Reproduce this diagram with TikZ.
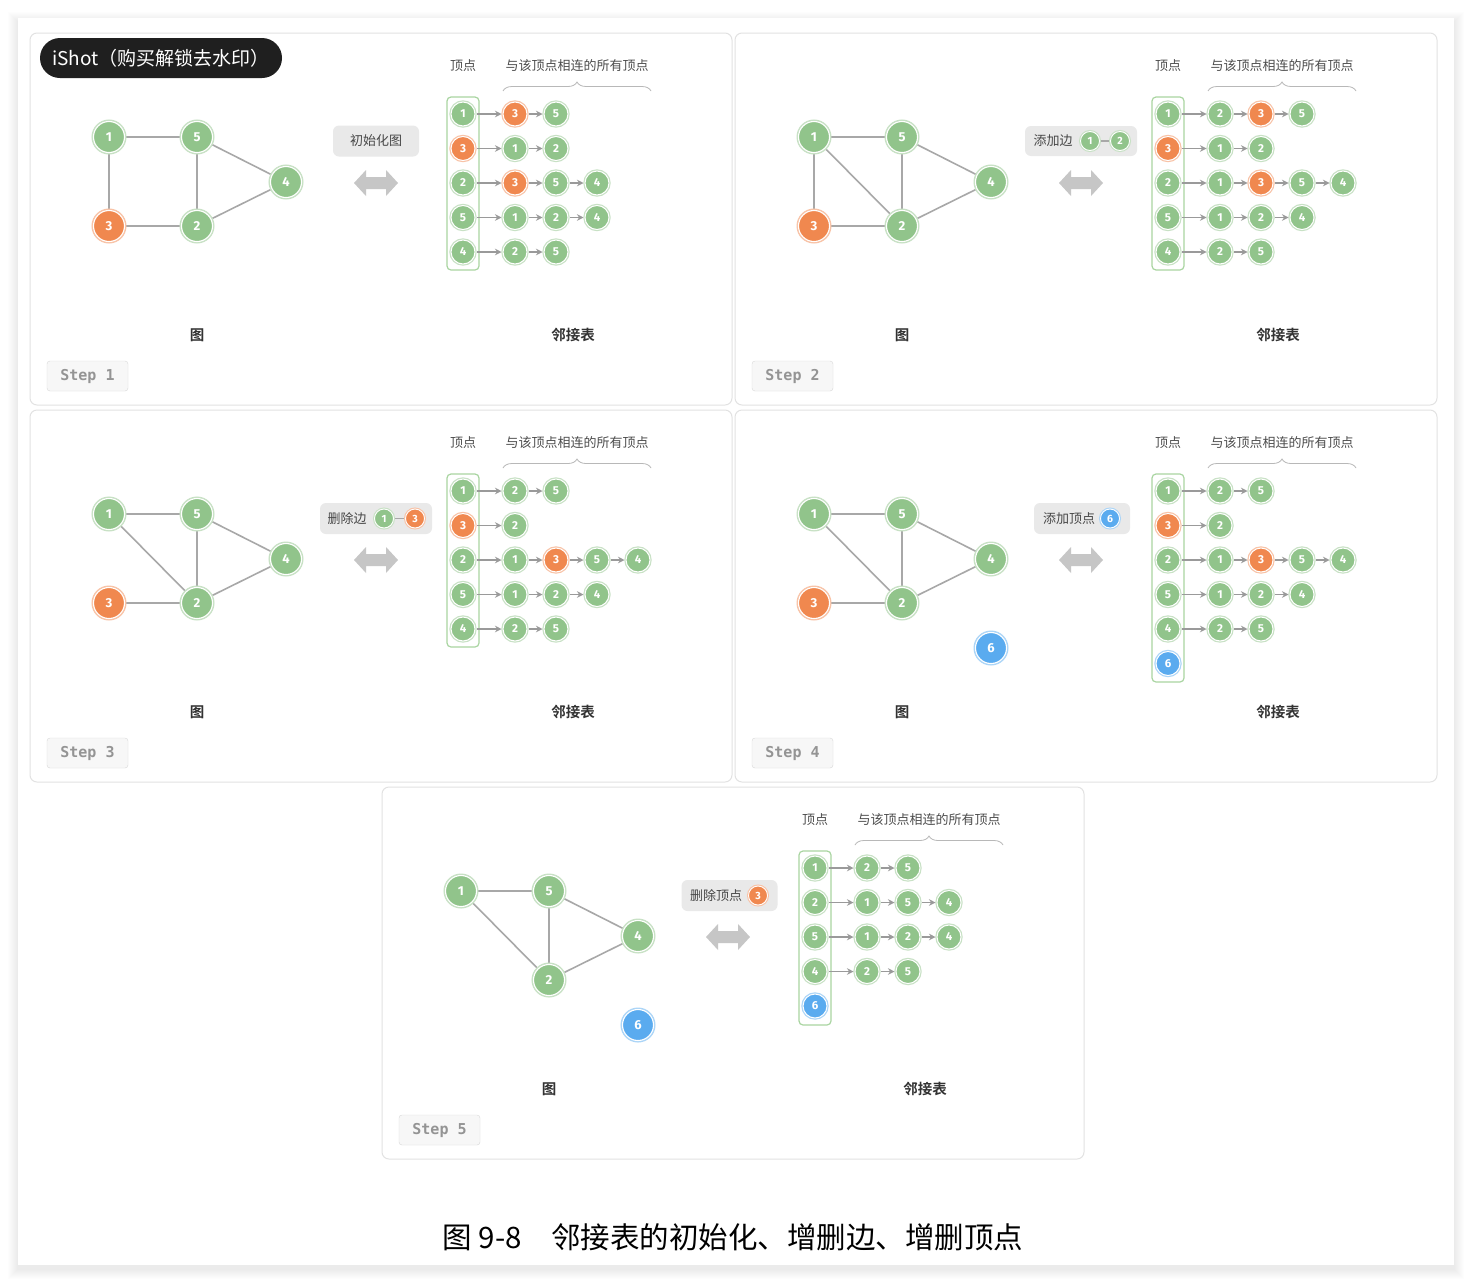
\documentclass[tikz,border=0pt]{standalone}
\usepackage{fontspec}
\usetikzlibrary{arrows.meta,decorations.pathreplacing}
\newfontfamily\cjk{Noto Sans CJK SC}[BoldFont={Noto Sans CJK SC Bold}]
\newfontfamily\monof{DejaVu Sans Mono}
\newfontfamily\numfont{Fira Sans}
\definecolor{gcol}{HTML}{91C48B}
\definecolor{ocol}{HTML}{F0884F}
\definecolor{bcol}{HTML}{5AABEF}
\definecolor{edgegray}{HTML}{A8A8A8}
\definecolor{arrgray}{HTML}{9A9A9A}
\definecolor{colboxc}{HTML}{A9D5A1}
\definecolor{boxc}{HTML}{E9E9E9}
\definecolor{panelc}{HTML}{E2E2E2}
\definecolor{dblarr}{HTML}{C6C6C6}
\pgfdeclarelayer{bg}
\pgfdeclarelayer{edges}
\pgfsetlayers{bg,edges,main}
\newcommand\adjrow[4]{%
  \node[lnode=#2] (r#1c0) at (463,{114+34.5*(#1-1)}) {#3};
  \foreach \cc/\lab [count=\k, remember=\k as \pk (initially 0)] in {#4} {
    \node[lnode=\cc] (r#1c\k) at ({474+41*\k},{114+34.5*(#1-1)}) {\lab};
    \draw[larrow] (r#1c\pk) -- (r#1c\k);
  }%
}
\newcommand\loneadj[3]{%
  \node[lnode=#2] (r#1c0) at (463,{114+34.5*(#1-1)}) {#3};%
}
\newcommand\common[2]{% #1 step number, #2 column box bottom
  \begin{pgfonlayer}{bg}
    \draw[panel] (30,33) rectangle (732,405);
  \end{pgfonlayer}
  \node[hdr] (hv) at (463,66) {顶点};
  \node[hdr] (hn) at (577,66) {与该顶点相连的所有顶点};
  \draw[bracec, decorate, decoration={brace, amplitude=9pt}] (503,91) -- (651,91);
  \node[blabel] (gl) at (197,335) {图};
  \node[blabel] (ll) at (573,335) {邻接表};
  \node[stepbox] (st) at (87.5,376) {Step #1};
  \fill[dblarr] (354,183) -- (366,170) -- (366,177) -- (386,177) -- (386,170) -- (398,183)
     -- (386,196) -- (386,189) -- (366,189) -- (366,196) -- cycle;
  \draw[colbox] (447,97) rectangle (479,#2);
}
\begin{document}
\begin{tikzpicture}[x=1pt,y=-1pt,
  gnode/.style={circle, fill=#1, preaction={draw=#1!50!white, line width=4pt}, draw=white, line width=1.1pt,
     minimum size=31pt, inner sep=0pt, text=white, font=\numfont\bfseries\fontsize{13}{13}\selectfont},
  lnode/.style={circle, fill=#1, preaction={draw=#1!50!white, line width=3.4pt}, draw=white, line width=1pt,
     minimum size=24pt, inner sep=0pt, text=white, font=\numfont\bfseries\fontsize{11.5}{11.5}\selectfont},
  mnode/.style={circle, fill=#1, preaction={draw=#1!50!white, line width=3pt}, draw=white, line width=0.9pt,
     minimum size=19pt, inner sep=0pt, text=white, font=\numfont\bfseries\fontsize{10.5}{10.5}\selectfont},
  gedge/.style={draw=edgegray, line width=1.6pt},
  larrow/.style={draw=arrgray, line width=1.3pt, -{Stealth[length=6.5pt,width=6.5pt]}, shorten >=1pt, shorten <=1.5pt},
  panel/.style={draw=panelc, line width=1pt, fill=white, rounded corners=7pt},
  hdr/.style={font=\cjk\fontsize{13}{13}\selectfont, text=black!70},
  bracec/.style={draw=black!28, line width=0.8pt},
  blabel/.style={font=\cjk\bfseries\fontsize{14.5}{14.5}\selectfont, text=black!80},
  stepbox/.style={draw=black!15, fill=black!3, rounded corners=3pt, minimum width=81pt, minimum height=30pt,
     inner sep=0pt, font=\monof\bfseries\fontsize{15}{15}\selectfont, text=black!42},
  colbox/.style={draw=colboxc, line width=1.2pt, rounded corners=4pt},
  lbox/.style={fill=boxc, rounded corners=6pt, minimum height=31pt, inner sep=0pt},
  ltxt/.style={font=\cjk\fontsize{13}{13}\selectfont, text=black!72},
]
\useasboundingbox (0,0) rectangle (1472,1283);
\begin{pgfonlayer}{bg}
\fill[white] (0,0) rectangle (1472,1283);
\foreach \i in {1,...,10} { \fill[black, opacity=0.008] (18-\i,18-\i+4) rectangle (1454+\i,1265+\i+4); }
\fill[white] (18,18) rectangle (1454,1265);
\end{pgfonlayer}

% ---------------- Step 1
\begin{scope}[name prefix=p1-]
\common{1}{270}
\node[lbox, minimum width=86pt, ltxt] (lb) at (376,141) {初始化图};
\node[gnode=gcol] (g1) at (109,137) {1};
\node[gnode=gcol] (g5) at (197,137) {5};
\node[gnode=gcol] (g4) at (286,182) {4};
\node[gnode=ocol] (g3) at (109,226) {3};
\node[gnode=gcol] (g2) at (197,226) {2};
\begin{pgfonlayer}{edges}
\draw[gedge] (g1) -- (g5); \draw[gedge] (g1) -- (g3); \draw[gedge] (g5) -- (g2);
\draw[gedge] (g5) -- (g4); \draw[gedge] (g3) -- (g2); \draw[gedge] (g2) -- (g4);
\end{pgfonlayer}
\adjrow{1}{gcol}{1}{ocol/3,gcol/5}
\adjrow{2}{ocol}{3}{gcol/1,gcol/2}
\adjrow{3}{gcol}{2}{ocol/3,gcol/5,gcol/4}
\adjrow{4}{gcol}{5}{gcol/1,gcol/2,gcol/4}
\adjrow{5}{gcol}{4}{gcol/2,gcol/5}
\end{scope}

% ---------------- Step 2
\begin{scope}[shift={(705,0)}, name prefix=p2-]
\common{2}{270}
\begin{pgfonlayer}{bg}\fill[boxc, rounded corners=6pt] (320,126) rectangle (432,156);\end{pgfonlayer}
\node[ltxt] (lt) at (348,141) {添加边};
\node[mnode=gcol] (ma) at (385,141) {1};
\node[mnode=gcol] (mb) at (415,141) {2};
\begin{pgfonlayer}{edges}\draw[gedge, line width=1.2pt] (ma) -- (mb);\end{pgfonlayer}
\node[gnode=gcol] (g1) at (109,137) {1};
\node[gnode=gcol] (g5) at (197,137) {5};
\node[gnode=gcol] (g4) at (286,182) {4};
\node[gnode=ocol] (g3) at (109,226) {3};
\node[gnode=gcol] (g2) at (197,226) {2};
\begin{pgfonlayer}{edges}
\draw[gedge] (g1) -- (g5); \draw[gedge] (g1) -- (g3); \draw[gedge] (g5) -- (g2);
\draw[gedge] (g5) -- (g4); \draw[gedge] (g3) -- (g2); \draw[gedge] (g2) -- (g4);
\draw[gedge] (g1) -- (g2);
\end{pgfonlayer}
\adjrow{1}{gcol}{1}{gcol/2,ocol/3,gcol/5}
\adjrow{2}{ocol}{3}{gcol/1,gcol/2}
\adjrow{3}{gcol}{2}{gcol/1,ocol/3,gcol/5,gcol/4}
\adjrow{4}{gcol}{5}{gcol/1,gcol/2,gcol/4}
\adjrow{5}{gcol}{4}{gcol/2,gcol/5}
\end{scope}

% ---------------- Step 3
\begin{scope}[shift={(0,377)}, name prefix=p3-]
\common{3}{270}
\begin{pgfonlayer}{bg}\fill[boxc, rounded corners=6pt] (320,126) rectangle (432,157);\end{pgfonlayer}
\node[ltxt] (lt) at (347,141.5) {删除边};
\node[mnode=gcol] (ma) at (384,141.5) {1};
\node[mnode=ocol] (mb) at (415,141.5) {3};
\begin{pgfonlayer}{edges}\draw[gedge, line width=1.2pt] (ma) -- (mb);\end{pgfonlayer}
\node[gnode=gcol] (g1) at (109,137) {1};
\node[gnode=gcol] (g5) at (197,137) {5};
\node[gnode=gcol] (g4) at (286,182) {4};
\node[gnode=ocol] (g3) at (109,226) {3};
\node[gnode=gcol] (g2) at (197,226) {2};
\begin{pgfonlayer}{edges}
\draw[gedge] (g1) -- (g5); \draw[gedge] (g1) -- (g2); \draw[gedge] (g5) -- (g2);
\draw[gedge] (g5) -- (g4); \draw[gedge] (g3) -- (g2); \draw[gedge] (g2) -- (g4);
\end{pgfonlayer}
\adjrow{1}{gcol}{1}{gcol/2,gcol/5}
\adjrow{2}{ocol}{3}{gcol/2}
\adjrow{3}{gcol}{2}{gcol/1,ocol/3,gcol/5,gcol/4}
\adjrow{4}{gcol}{5}{gcol/1,gcol/2,gcol/4}
\adjrow{5}{gcol}{4}{gcol/2,gcol/5}
\end{scope}

% ---------------- Step 4
\begin{scope}[shift={(705,377)}, name prefix=p4-]
\common{4}{305}
\begin{pgfonlayer}{bg}\fill[boxc, rounded corners=6pt] (329,126) rectangle (425,157);\end{pgfonlayer}
\node[ltxt] (lt) at (364,141.5) {添加顶点};
\node[mnode=bcol] (ma) at (405,141.5) {6};
\node[gnode=gcol] (g1) at (109,137) {1};
\node[gnode=gcol] (g5) at (197,137) {5};
\node[gnode=gcol] (g4) at (286,182) {4};
\node[gnode=ocol] (g3) at (109,226) {3};
\node[gnode=gcol] (g2) at (197,226) {2};
\node[gnode=bcol] (g6) at (286,271) {6};
\begin{pgfonlayer}{edges}
\draw[gedge] (g1) -- (g5); \draw[gedge] (g1) -- (g2); \draw[gedge] (g5) -- (g2);
\draw[gedge] (g5) -- (g4); \draw[gedge] (g3) -- (g2); \draw[gedge] (g2) -- (g4);
\end{pgfonlayer}
\adjrow{1}{gcol}{1}{gcol/2,gcol/5}
\adjrow{2}{ocol}{3}{gcol/2}
\adjrow{3}{gcol}{2}{gcol/1,ocol/3,gcol/5,gcol/4}
\adjrow{4}{gcol}{5}{gcol/1,gcol/2,gcol/4}
\adjrow{5}{gcol}{4}{gcol/2,gcol/5}
\loneadj{6}{bcol}{6}
\end{scope}

% ---------------- Step 5
\begin{scope}[shift={(352,754)}, name prefix=p5-]
\common{5}{271}
\begin{pgfonlayer}{bg}\fill[boxc, rounded corners=6pt] (329.5,126) rectangle (425.5,157);\end{pgfonlayer}
\node[ltxt] (lt) at (364,141.5) {删除顶点};
\node[mnode=ocol] (ma) at (406,141.5) {3};
\node[gnode=gcol] (g1) at (109,137) {1};
\node[gnode=gcol] (g5) at (197,137) {5};
\node[gnode=gcol] (g4) at (286,182) {4};
\node[gnode=gcol] (g2) at (197,226) {2};
\node[gnode=bcol] (g6) at (286,271) {6};
\begin{pgfonlayer}{edges}
\draw[gedge] (g1) -- (g5); \draw[gedge] (g1) -- (g2); \draw[gedge] (g5) -- (g2);
\draw[gedge] (g5) -- (g4); \draw[gedge] (g2) -- (g4);
\end{pgfonlayer}
\adjrow{1}{gcol}{1}{gcol/2,gcol/5}
\adjrow{2}{gcol}{2}{gcol/1,gcol/5,gcol/4}
\adjrow{3}{gcol}{5}{gcol/1,gcol/2,gcol/4}
\adjrow{4}{gcol}{4}{gcol/2,gcol/5}
\loneadj{5}{bcol}{6}
\end{scope}

% watermark
\node[fill=black!88, rounded corners=20pt, minimum width=242pt, minimum height=40pt, inner sep=0pt,
      text=white, font=\cjk\fontsize{19}{19}\selectfont] (ishot) at (161,58) {iShot（购买解锁去水印）};

% caption
\node[font=\cjk\fontsize{29.5}{29.5}\selectfont, text=black] (cap) at (733,1237) {图 9-8\quad 邻接表的初始化、增删边、增删顶点};
\end{tikzpicture}
\end{document}
